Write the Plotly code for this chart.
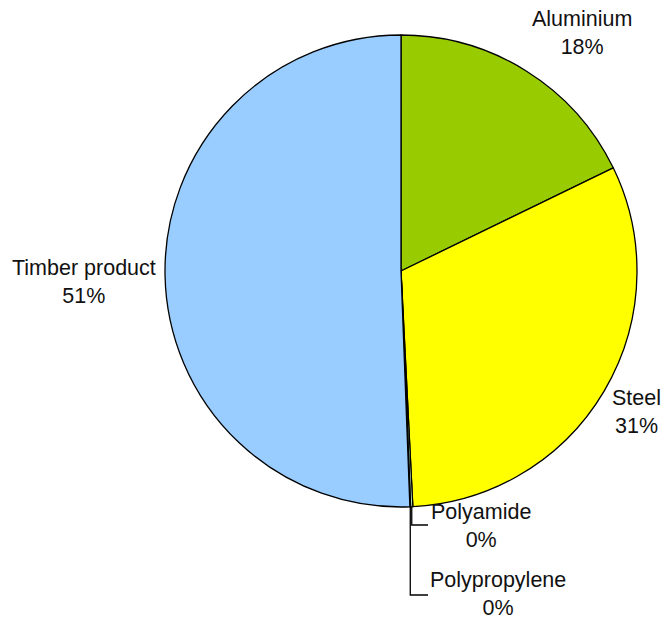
import math
import plotly.graph_objects as go

categories = ["Aluminium", "Steel", "Polyamide", "Polypropylene", "Timber product"]
values = [17.8, 31.4, 0.15, 0.05, 50.6]
pct_labels = ["18%", "31%", "0%", "0%", "51%"]
colors = ["#99CC00", "#FFFF00", "#CCFFCC", "#FF99CC", "#99CCFF"]

W, H = 670, 620
cx, cy, r = 401, 271, 236

fig = go.Figure(go.Pie(
    labels=categories,
    values=values,
    sort=False,
    direction="clockwise",
    rotation=0,
    marker=dict(colors=colors, line=dict(color="#000000", width=1.3)),
    textinfo="none",
    hoverinfo="label+percent",
    showlegend=False,
    domain=dict(x=[(cx - r) / W, (cx + r) / W], y=[1 - (cy + r) / H, 1 - (cy - r) / H]),
))

# label positions (pixels)
label_pos = {
    "Aluminium": (582, 33),
    "Steel": (636, 412),
    "Polyamide": (481, 526),
    "Polypropylene": (498, 594),
    "Timber product": (84, 282),
}

annotations = []
for cat, pct in zip(categories, pct_labels):
    px, py = label_pos[cat]
    annotations.append(dict(
        x=px / W, y=1 - py / H, xref="paper", yref="paper",
        text=f"{cat}<br>{pct}", showarrow=False,
        xanchor="center", yanchor="middle",
        font=dict(family="Liberation Sans, Arial", size=21.5, color="#111111"),
    ))

# leader lines for tiny slices, starting at slice mid-angle on the rim
total = sum(values)
cum = 0
mids = {}
for cat, v in zip(categories, values):
    mids[cat] = (cum + v / 2) / total * 360
    cum += v

shapes = []
leader_ends = {"Polyamide": (525, 428), "Polypropylene": (595, 428)}
for i, (cat, (ly, lx)) in enumerate(leader_ends.items()):
    a = math.radians(mids[cat])
    sx = cx + r * math.sin(a)
    sy = cy - r * math.cos(a)
    pts = [(sx, sy), (sx, ly), (lx, ly)]
    path = "M " + " L ".join(f"{x / W},{1 - y / H}" for x, y in pts)
    shapes.append(dict(type="path", path=path, xref="paper", yref="paper",
                       line=dict(color="#000000", width=1.3)))

fig.update_layout(
    width=W, height=H,
    margin=dict(l=0, r=0, t=0, b=0),
    paper_bgcolor="white", plot_bgcolor="white",
    annotations=annotations,
    shapes=shapes,
)

fig.write_html("out.html", config={"displayModeBar": False},
               post_script="document.body.style.margin='0';")
